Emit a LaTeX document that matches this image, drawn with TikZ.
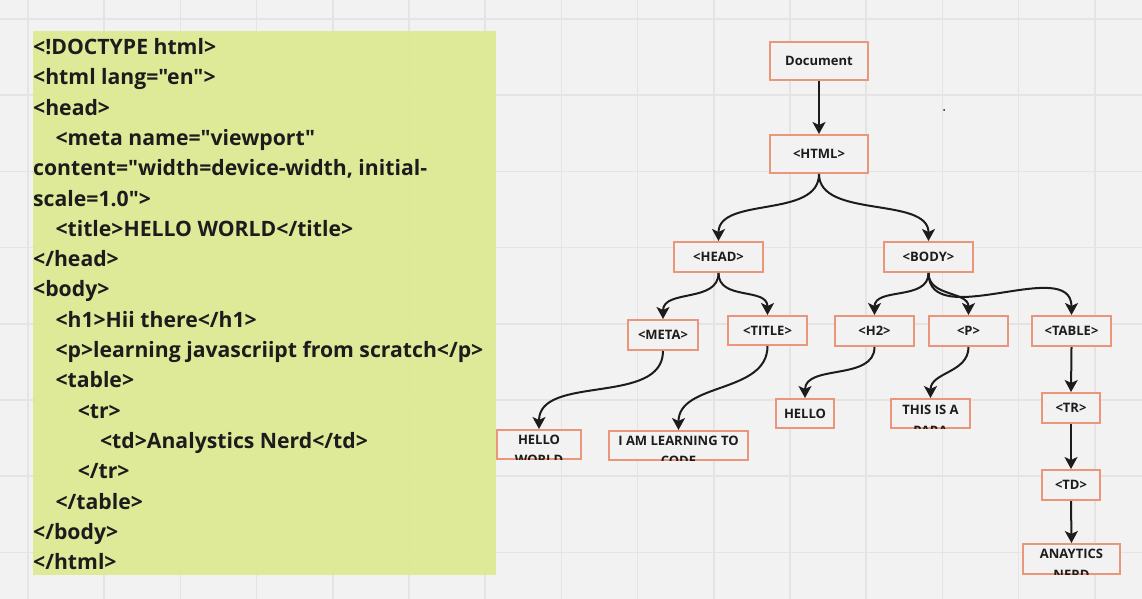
\documentclass[tikz,border=0pt]{standalone}
\usepackage{fontspec}
\setmainfont{Open Sans}[Ligatures=TeXOff]
\usetikzlibrary{arrows.meta}
\definecolor{canvas}{RGB}{242,242,242}
\definecolor{gridgray}{RGB}{228,228,228}
\definecolor{codegreen}{RGB}{222,234,145}
\definecolor{salmon}{RGB}{234,150,122}
\definecolor{ink}{RGB}{28,28,28}

\begin{document}
\begin{tikzpicture}[x=1pt,y=-1pt,
  tag/.style={draw=salmon, line width=2pt, fill=canvas, text=ink,
    font=\bfseries\fontsize{13}{16}\selectfont, minimum height=30, inner sep=0},
  cuttext/.style={text=ink, font=\bfseries\fontsize{13}{20.5}\selectfont,
    align=center, inner sep=0, anchor=north},
  link/.style={line width=2pt, ink, -{Stealth[length=12pt,width=13pt,inset=3pt]}},
  gridline/.style={gridgray, line width=1.5pt},
  code/.style={text=ink, font=\bfseries\fontsize{21.2}{30.3}\selectfont,
    align=left, inner sep=0, anchor=north west}
]

% canvas and grid
\fill[canvas] (0,0) rectangle (1142,599);
\useasboundingbox (0,0) rectangle (1142,599);
\foreach \k in {0,...,14}
  \draw[gridline] (28+76.2*\k,0) -- (28+76.2*\k,599);
\foreach \k in {0,...,7}
  \draw[gridline] (0,19+76.2*\k) -- (1142,19+76.2*\k);

% source code panel
\fill[codegreen, fill opacity=.92] (33,31) rectangle (496,575);
\node[code] (src) at (33,38.2) {<!DOCTYPE html>\\
<html lang="en">\\
<head>\\
\hspace*{22.3pt}<meta name="viewport"\\
content="width=device-width, initial-\\
scale=1.0">\\
\hspace*{22.3pt}<title>HELLO WORLD</title>\\
</head>\\
<body>\\
\hspace*{22.3pt}<h1>Hii there</h1>\\
\hspace*{22.3pt}<p>learning javascriipt from scratch</p>\\
\hspace*{22.3pt}<table>\\
\hspace*{44.6pt}<tr>\\
\hspace*{66.9pt}<td>Analystics Nerd</td>\\
\hspace*{44.6pt}</tr>\\
\hspace*{22.3pt}</table>\\
</body>\\
</html>};

% tree nodes
\node[tag, minimum width=98, minimum height=38] (doc) at (819,61) {Document};
\node[tag, minimum width=98, minimum height=38] (html) at (819,154) {<HTML>};
\node[tag, minimum width=89] (head) at (718.5,257) {<HEAD>};
\node[tag, minimum width=89] (body) at (928.5,257) {<BODY>};
\node[tag, minimum width=70] (meta) at (663,335) {<META>};
\node[tag, minimum width=79, minimum height=29] (title) at (767.5,330.5) {<TITLE>};
\node[tag, minimum width=79] (h2) at (874.5,331) {<H2>};
\node[tag, minimum width=79] (p) at (968.5,331) {<P>};
\node[tag, minimum width=79] (table) at (1071.5,331) {<TABLE>};
\node[tag, minimum width=58, minimum height=29] (hello) at (805,413.5) {HELLO};
\node[tag, minimum width=58] (tr) at (1071,408) {<TR>};
\node[tag, minimum width=58] (td) at (1071,485) {<TD>};

% boxes whose text runs out at the bottom
\node[tag, minimum width=84, minimum height=29] (world) at (539,444.5) {};
\node[tag, minimum width=139, minimum height=29] (learn) at (678.5,445.5) {};
\node[tag, minimum width=79, minimum height=29] (para) at (930.5,413.5) {};
\node[tag, minimum width=97] (nerd) at (1071.5,559) {};
\begin{scope}
  \clip ([xshift=1pt,yshift=1pt]world.south west) rectangle ([xshift=-1pt,yshift=-1pt]world.north east);
  \node[cuttext] at ([yshift=-5.5pt]world.north) {HELLO\\WORLD};
\end{scope}
\begin{scope}
  \clip ([xshift=1pt,yshift=1pt]learn.south west) rectangle ([xshift=-1pt,yshift=-1pt]learn.north east);
  \node[cuttext] at ([yshift=-5.5pt]learn.north) {I AM LEARNING TO\\CODE};
\end{scope}
\begin{scope}
  \clip ([xshift=1pt,yshift=1pt]para.south west) rectangle ([xshift=-1pt,yshift=-1pt]para.north east);
  \node[cuttext] at ([yshift=-7pt]para.north) {THIS IS A\\PARA};
\end{scope}
\begin{scope}
  \clip ([xshift=1pt,yshift=1pt]nerd.south west) rectangle ([xshift=-1pt,yshift=-1pt]nerd.north east);
  \node[cuttext] at ([yshift=-6pt]nerd.north) {ANAYTICS\\NERD};
\end{scope}

% connectors
\draw[link] (doc) -- (html);
\draw[link] (html.south) .. controls +(0,45) and +(0,-45) .. (head.north);
\draw[link] (html.south) .. controls +(0,45) and +(0,-45) .. (body.north);
\draw[link] (head.south) .. controls +(0,30) and +(0,-30) .. (meta.north);
\draw[link] (head.south) .. controls +(0,28) and +(0,-28) .. (title.north);
\draw[link] (body.south) .. controls +(0,28) and +(0,-28) .. (h2.north);
\draw[link] (body.south) .. controls +(0,24) and +(0,-24) .. (p.north);
\draw[link] (body.south) .. controls +(0,60) and +(0,-60) .. (table.north);
\draw[link] (meta.south) .. controls +(0,55) and +(0,-55) .. (world.north);
\draw[link] (title.south) .. controls +(0,48) and +(0,-48) .. (learn.north);
\draw[link] (h2.south) .. controls +(0,34) and +(0,-34) .. (hello.north);
\draw[link] (p.south) .. controls +(0,26) and +(0,-26) .. (para.north);
\draw[link] (table.south) -- (tr.north);
\draw[link] (tr) -- (td);
\draw[link] (td.south) -- (nerd.north);

% stray mark
\fill[ink] (944,110) circle (1);

\end{tikzpicture}
\end{document}
